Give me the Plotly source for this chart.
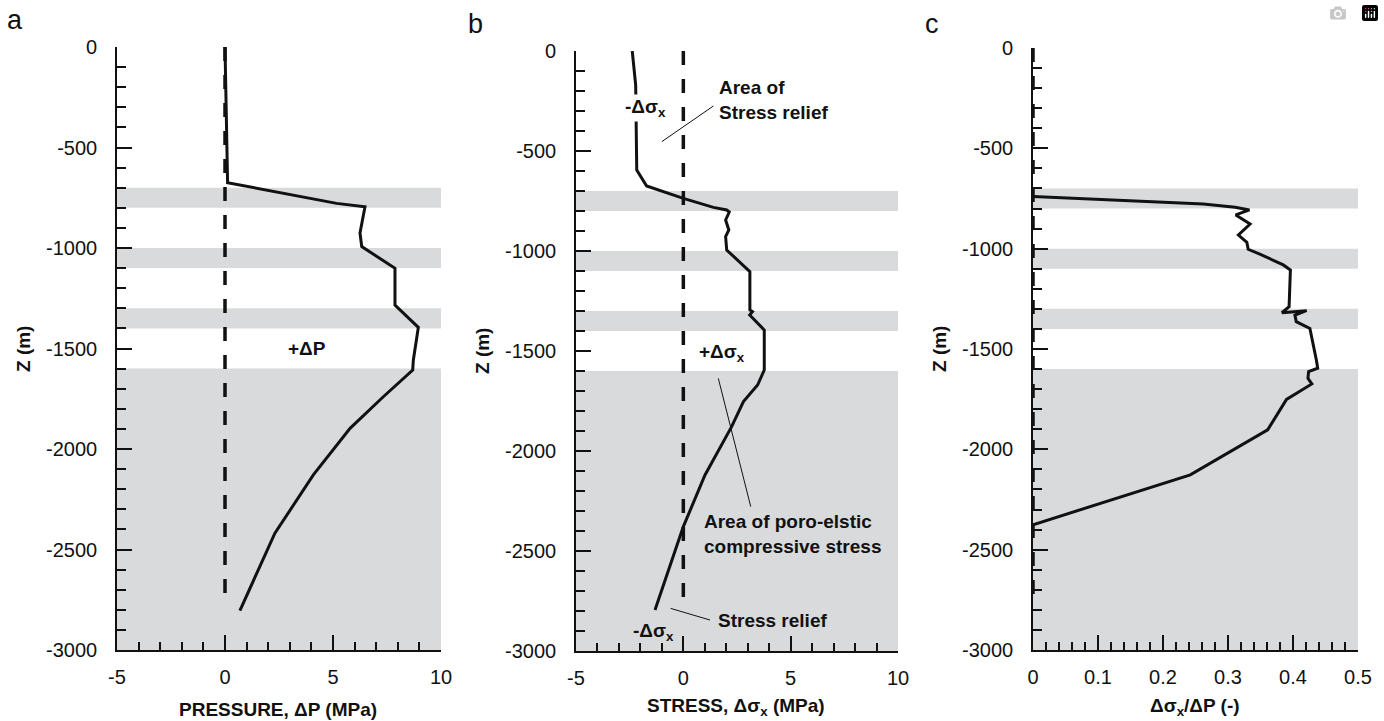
import plotly.graph_objects as go

# ---------------- data ----------------
# Panel a: pressure change dP (MPa) vs depth Z (m)
z_a = [0, -675, -778, -795, -925, -993, -1101, -1284, -1395, -1557, -1607, -1740, -1897, -2129, -2419, -2804]
dp_a = [0.0, 0.12, 5.17, 6.48, 6.25, 6.33, 7.87, 7.87, 8.95, 8.72, 8.69, 7.33, 5.79, 4.09, 2.31, 0.69]

# Panel b: stress change d sigma_x (MPa) vs depth
z_b = [0, -170, -595, -675, -737, -782, -795, -805, -845, -895, -928, -995, -1103, -1295, -1303,
       -1320, -1395, -1595, -1670, -1700, -1753, -1878, -2120, -2378, -2795]
ds_b = [-2.38, -2.22, -2.17, -1.71, 0.0, 1.40, 2.02, 2.14, 1.97, 2.12, 1.97, 2.02, 3.10, 3.10, 3.22,
        3.09, 3.77, 3.77, 3.46, 3.23, 2.80, 2.25, 1.01, 0.0, -1.32]

# Panel c: ratio d sigma_x / dP vs depth
z_c = [-740, -762, -777, -794, -807, -832, -877, -932, -968, -1003, -1027, -1081, -1106, -1289, -1319,
       -1309, -1331, -1364, -1398, -1556, -1596, -1613, -1646, -1674, -1751, -1903, -2127, -2376]
r_c = [0.0, 0.165, 0.262, 0.311, 0.333, 0.312, 0.334, 0.316, 0.329, 0.331, 0.349, 0.385, 0.396, 0.394, 0.383,
       0.421, 0.403, 0.405, 0.426, 0.436, 0.438, 0.424, 0.423, 0.429, 0.390, 0.361, 0.242, 0.0]

# zero reference (dashed) line
zero_x = [0, 0]
zero_z = [0, -2770]

# grey reservoir bands (depth top / bottom)
band_top = [-700, -1000, -1300, -1600]
band_bot = [-800, -1100, -1400, -3000]

# ticks
y_tickvals = [0, -500, -1000, -1500, -2000, -2500, -3000]
y_ticktext = ["0", "-500", "-1000", "-1500", "-2000", "-2500", "-3000"]
y_minor = [-v for v in range(100, 3000, 100) if v % 500]
x_tickvals_ab = [-5, 0, 5, 10]
x_ticktext_ab = ["-5", "0", "5", "10"]
x_minor_ab = [v for v in range(-4, 10) if v % 5]
x_tickvals_c = [0, 0.1, 0.2, 0.3, 0.4, 0.5]
x_ticktext_c = ["0", "0.1", "0.2", "0.3", "0.4", "0.5"]
x_minor_c = [round(0.02 * i, 2) for i in range(1, 25) if i % 5]

FONT = "Liberation Sans, Arial, Helvetica, sans-serif"
W, H = 1384, 721
GREY = "#d9dadc"

fig = go.Figure()

line_style = dict(color="#111111", width=3)
dash_style = dict(color="#111111", width=3.5, dash="14px,14px")

panels = [("x", "y", dp_a, z_a), ("x2", "y2", ds_b, z_b), ("x3", "y3", r_c, z_c)]
for xa, ya, xv, zv in panels:
    fig.add_trace(go.Scatter(x=zero_x, y=zero_z, mode="lines", line=dash_style,
                             xaxis=xa, yaxis=ya, showlegend=False, hoverinfo="skip"))
    fig.add_trace(go.Scatter(x=xv, y=zv, mode="lines", line=line_style,
                             xaxis=xa, yaxis=ya, showlegend=False))
    for t, b in zip(band_top, band_bot):
        fig.add_shape(type="rect", xref=f"{xa} domain", yref=ya, x0=0, x1=1, y0=t, y1=b,
                      fillcolor=GREY, line=dict(width=0), layer="below")

# domains (pixels -> paper)
dom = {
    "a": ((117, 441), (47, 650)),
    "b": ((576, 898), (51, 651)),
    "c": ((1033, 1358), (48, 650)),
}


def xd(p):
    return [p[0] / W, p[1] / W]


def yd(p):
    return [1 - p[1] / H, 1 - p[0] / H]


tickfont = dict(family=FONT, size=20, color="#111111")
common_axis = dict(showline=True, linecolor="#111111", linewidth=1.6, ticks="inside",
                   tickcolor="#111111", tickwidth=1.5, showgrid=False, zeroline=False,
                   tickfont=tickfont, tickmode="array", fixedrange=True, automargin=False)

for key, xa, ya in [("a", "xaxis", "yaxis"), ("b", "xaxis2", "yaxis2"), ("c", "xaxis3", "yaxis3")]:
    xp, yp = dom[key]
    anchor_x = {"xaxis": "y", "xaxis2": "y2", "xaxis3": "y3"}[xa]
    anchor_y = {"yaxis": "x", "yaxis2": "x2", "yaxis3": "x3"}[ya]
    if key == "c":
        xr, tv, tt, mn = [0, 0.5], x_tickvals_c, x_ticktext_c, x_minor_c
    else:
        xr, tv, tt, mn = [-5, 10], x_tickvals_ab, x_ticktext_ab, x_minor_ab
    fig.update_layout({
        xa: dict(common_axis, domain=xd(xp), range=xr, anchor=anchor_x, tickvals=tv, ticktext=tt,
                 ticklen=15, ticklabelstandoff=8,
                 minor=dict(tickmode="array", tickvals=mn, ticks="inside", ticklen=8,
                            tickwidth=1.5, tickcolor="#111111", showgrid=False)),
        ya: dict(common_axis, domain=yd(yp), range=[-3000, 0], anchor=anchor_y,
                 tickvals=y_tickvals, ticktext=y_ticktext, ticklen=15, ticklabelstandoff=14,
                 minor=dict(tickmode="array", tickvals=y_minor, ticks="inside", ticklen=9,
                            tickwidth=1.5, tickcolor="#111111", showgrid=False)),
    })

ann = []
bold = dict(family=FONT, size=19, color="#111111")


def pann(text, px, py, **kw):
    d = dict(text=text, x=px / W, y=1 - py / H, xref="paper", yref="paper", showarrow=False,
             xanchor="center", yanchor="middle")
    d.update(kw)
    ann.append(d)


# panel letters
for txt, px, py in [("a", 15, 20), ("b", 475, 24), ("c", 932, 24)]:
    pann(txt, px, py, font=dict(family=FONT, size=27, color="#111111"))

# y titles
for px, py in [(23, 349), (482, 351), (939, 349)]:
    pann("<b>Z (m)</b>", px, py, textangle=-90, font=bold)

# x titles
pann("<b>PRESSURE, ΔP (MPa)</b>", 278, 709, font=bold)
pann("<b>STRESS, Δσ<sub>x</sub> (MPa)</b>", 736, 707, font=bold)
pann("<b>Δσ<sub>x</sub>/ΔP (-)</b>", 1195, 707, font=bold)


def dann(text, x, y, xr, yr, **kw):
    d = dict(text=text, x=x, y=y, xref=xr, yref=yr, xanchor="left", yanchor="middle",
             align="left", showarrow=False, font=bold)
    d.update(kw)
    ann.append(d)


# in-plot labels
dann("<b>+ΔP</b>", 2.82, -1500, "x", "y")
dann("<b>-Δσ<sub>x</sub></b>", -2.81, -285, "x2", "y2", bgcolor="white")
dann("<b>Area of<br>Stress relief</b>", 1.57, -245, "x2", "y2")
dann("<b>+Δσ<sub>x</sub></b>", 0.62, -1510, "x2", "y2")
dann("<b>Area of poro-elstic<br>compressive stress</b>", 0.86, -2417, "x2", "y2")
dann("<b>Stress relief</b>", 1.52, -2845, "x2", "y2")
dann("<b>-Δσ<sub>x</sub></b>", -2.45, -2905, "x2", "y2")

# leader lines (panel b)
leaders = [((-1.0, -453), (1.40, -275)), ((1.63, -1637), (3.14, -2278)), ((-0.59, -2787), (1.24, -2845))]
for (x0, y0), (x1, y1) in leaders:
    fig.add_shape(type="line", xref="x2", yref="y2", x0=x0, y0=y0, x1=x1, y1=y1,
                  line=dict(color="#111111", width=1))

fig.update_layout(width=W, height=H, autosize=False,
                  margin=dict(l=0, r=0, t=0, b=0, pad=0, autoexpand=False),
                  paper_bgcolor="white", plot_bgcolor="white", annotations=ann,
                  font=dict(family=FONT, color="#111111"))

fig.write_html("out.html", post_script="document.body.style.margin='0';document.body.style.overflow='hidden';")
